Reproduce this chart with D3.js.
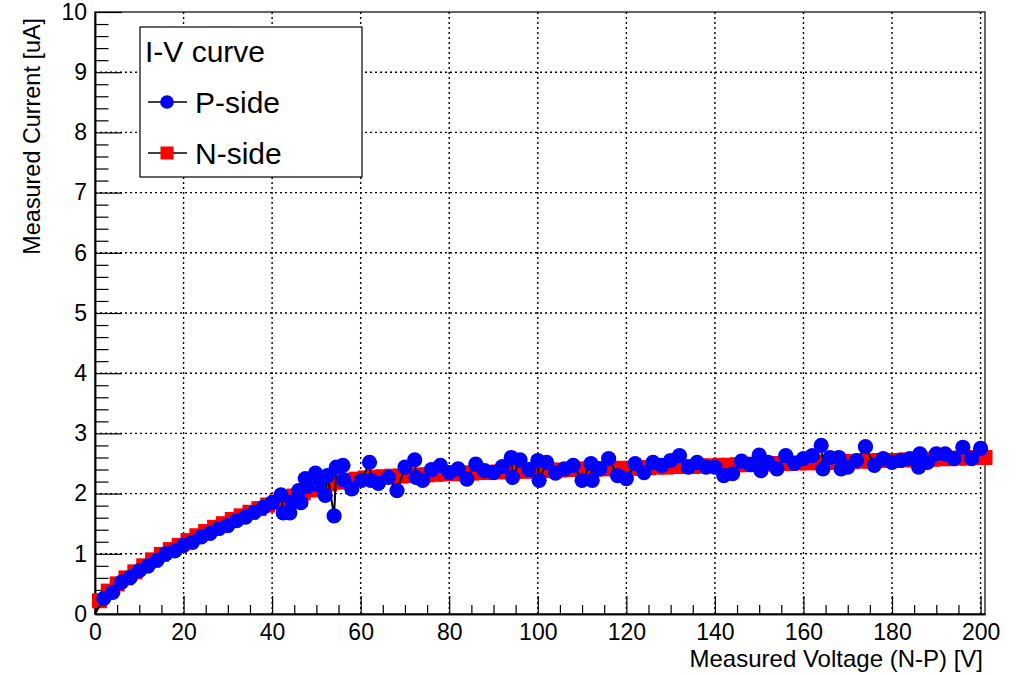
<!DOCTYPE html>
<html>
<head>
<meta charset="utf-8">
<script src="https://cdn.jsdelivr.net/npm/d3@7"></script>
<style>
  html, body { margin: 0; padding: 0; background: #fff; }
  text { font-family: "Liberation Sans", Arial, Helvetica, sans-serif; }
</style>
</head>
<body>
<svg id="chart" width="1031" height="675"></svg>
<script>
// ---------------- data ----------------
const legendTitle = "I-V curve";
const seriesNames = ["P-side", "N-side"];
const xTitle = "Measured Voltage (N-P) [V]";
const yTitle = "Measured Current [uA]";
const xMajorTicks = [0, 20, 40, 60, 80, 100, 120, 140, 160, 180, 200];
const yMajorTicks = [0, 1, 2, 3, 4, 5, 6, 7, 8, 9, 10];

// P-side: measured voltage [V]
const pVoltage = [0, 2, 4, 6, 8, 10, 12, 14, 16, 18, 20, 22, 24, 26, 28, 30, 32, 34, 36, 38, 40,
  42, 42.5, 44, 44.5, 46, 46.5, 47.5, 48, 49.8, 50.5, 52, 52.5, 54, 54.5, 56, 56.2, 58, 60.2, 62, 62.3,
  64, 66.3, 68.2, 70, 72.2, 72.5, 74, 76, 78, 80, 82, 84, 86, 88, 90, 92, 94, 94.3, 96, 98, 100, 100.3,
  102, 104, 106, 108, 110, 112, 112.3, 114, 116, 118, 120, 122, 124, 126, 128, 130, 132, 134, 136, 138,
  140, 142, 144, 146, 148, 150, 150.4, 152, 154, 156, 158, 160, 162, 164, 164.4, 166, 168, 168.5, 170,
  172, 174, 176, 178, 180, 182, 184, 186, 186.3, 188, 190, 192, 194, 196, 198, 200];
// P-side: measured current [uA]
const pCurrent = [0, 0.26, 0.36, 0.53, 0.61, 0.72, 0.80, 0.89, 1.00, 1.05, 1.14, 1.19, 1.28, 1.34, 1.42, 1.47, 1.55, 1.61, 1.69, 1.77, 1.85,
  1.98, 1.68, 1.68, 1.86, 2.05, 1.85, 2.25, 2.12, 2.34, 2.14, 1.97, 2.30, 1.63, 2.44, 2.47, 2.23, 2.08, 2.22, 2.52, 2.22,
  2.17, 2.27, 2.05, 2.44, 2.56, 2.27, 2.22, 2.40, 2.47, 2.35, 2.41, 2.24, 2.49, 2.38, 2.35, 2.45, 2.60, 2.27, 2.56, 2.40, 2.55, 2.22,
  2.52, 2.34, 2.41, 2.47, 2.22, 2.50, 2.22, 2.41, 2.58, 2.30, 2.25, 2.50, 2.35, 2.52, 2.47, 2.55, 2.63, 2.44, 2.52, 2.44,
  2.44, 2.30, 2.33, 2.54, 2.48, 2.64, 2.38, 2.52, 2.41, 2.63, 2.50, 2.58, 2.63, 2.80, 2.41, 2.60, 2.60, 2.41, 2.44,
  2.55, 2.78, 2.47, 2.58, 2.52, 2.55, 2.58, 2.44, 2.66, 2.52, 2.66, 2.66, 2.58, 2.77, 2.58, 2.75];

// N-side: measured voltage [V]
const nVoltage = [0, 1, 3, 5, 7, 9, 11, 13, 15, 17, 19, 21, 23, 25, 27, 29, 31, 33, 35, 37, 39, 41, 43, 45, 47, 49,
  51, 53, 55, 57, 59, 61, 63, 65, 67, 69, 71, 73, 75, 77, 79, 81, 83, 85, 87, 89, 91, 93, 95, 97, 99,
  101, 103, 105, 107, 109, 111, 113, 115, 117, 119, 121, 123, 125, 127, 129, 131, 133, 135, 137, 139,
  141, 143, 145, 147, 149, 151, 153, 155, 157, 159, 161, 163, 165, 167, 169, 171, 173, 175, 177, 179,
  181, 183, 185, 187, 189, 191, 193, 195, 197, 199, 201];
// N-side: measured current [uA]
const nCurrent = [0, 0.22, 0.38, 0.50, 0.60, 0.70, 0.80, 0.90, 0.99, 1.07, 1.14, 1.22, 1.30, 1.37, 1.44, 1.50, 1.57, 1.63, 1.69, 1.75, 1.81, 1.86, 1.91, 1.96, 2.01, 2.06,
  2.11, 2.16, 2.19, 2.22, 2.24, 2.26, 2.27, 2.28, 2.29, 2.29, 2.30, 2.31, 2.31, 2.32, 2.33, 2.33, 2.34, 2.34, 2.35, 2.35, 2.36, 2.37, 2.37, 2.37, 2.38,
  2.38, 2.39, 2.39, 2.40, 2.40, 2.41, 2.41, 2.41, 2.42, 2.42, 2.42, 2.43, 2.43, 2.44, 2.44, 2.45, 2.45, 2.45, 2.46, 2.46,
  2.47, 2.47, 2.48, 2.48, 2.49, 2.49, 2.50, 2.50, 2.50, 2.51, 2.51, 2.52, 2.52, 2.52, 2.53, 2.53, 2.54, 2.54, 2.55, 2.55,
  2.55, 2.56, 2.56, 2.57, 2.57, 2.58, 2.58, 2.59, 2.59, 2.60, 2.60];

// ---------------- layout ----------------
const W = 1031, H = 675;
const frame = { left: 95, right: 985, top: 12, bottom: 614 };
const xMin = 0, xMax = 201, yMin = 0, yMax = 10;

const svg = d3.select("#chart");
svg.append("rect").attr("width", W).attr("height", H).attr("fill", "#fff");

const x = d3.scaleLinear().domain([xMin, xMax]).range([frame.left, frame.right]);
const y = d3.scaleLinear().domain([yMin, yMax]).range([frame.bottom, frame.top]);

const xMinor = d3.range(0, 201, 5).filter(v => !xMajorTicks.includes(v));
const yMinor = d3.range(0, 10.001, 0.2).map(v => +v.toFixed(1)).filter(v => !yMajorTicks.includes(v));

// grid (dotted)
const grid = svg.append("g").attr("stroke", "#000").attr("stroke-width", 1.4).attr("stroke-dasharray", "2,3");
grid.selectAll("line.gx").data(xMajorTicks.filter(v => v > xMin && v < xMax)).join("line")
  .attr("x1", d => x(d)).attr("x2", d => x(d)).attr("y1", frame.top).attr("y2", frame.bottom);
grid.selectAll("line.gy").data(yMajorTicks.filter(v => v > yMin && v < yMax)).join("line")
  .attr("y1", d => y(d)).attr("y2", d => y(d)).attr("x1", frame.left).attr("x2", frame.right);

// frame
svg.append("rect").attr("x", frame.left).attr("y", frame.top)
  .attr("width", frame.right - frame.left).attr("height", frame.bottom - frame.top)
  .attr("fill", "none").attr("stroke", "#000").attr("stroke-width", 1.2);

// axes
const fontSize = 23;
const xAxis = svg.append("g").attr("transform", `translate(0,${frame.bottom})`)
  .call(d3.axisBottom(x).tickValues(xMajorTicks).tickSize(-18).tickSizeOuter(0).tickPadding(10).tickFormat(d3.format("d")));
const xAxisMinor = svg.append("g").attr("transform", `translate(0,${frame.bottom})`)
  .call(d3.axisBottom(x).tickValues(xMinor).tickSize(-9).tickSizeOuter(0).tickFormat(""));
const yAxis = svg.append("g").attr("transform", `translate(${frame.left},0)`)
  .call(d3.axisLeft(y).tickValues(yMajorTicks).tickSize(-27).tickSizeOuter(0).tickPadding(8).tickFormat(d3.format("d")));
const yAxisMinor = svg.append("g").attr("transform", `translate(${frame.left},0)`)
  .call(d3.axisLeft(y).tickValues(yMinor).tickSize(-13.5).tickSizeOuter(0).tickFormat(""));

[xAxis, xAxisMinor, yAxis, yAxisMinor].forEach(g => {
  g.select(".domain").attr("stroke", "#000").attr("stroke-width", 1.5);
  g.selectAll(".tick line").attr("stroke", "#000").attr("stroke-width", 1.2);
  g.selectAll(".tick text").attr("font-size", fontSize).attr("fill", "#000")
    .attr("font-family", '"Liberation Sans", Arial, sans-serif');
});

// axis titles
svg.append("text").attr("x", 983).attr("y", 667).attr("text-anchor", "end")
  .attr("font-size", 24).attr("fill", "#000").text(xTitle);
svg.append("text").attr("transform", "translate(40,18) rotate(-90)").attr("text-anchor", "end")
  .attr("font-size", 23.4).attr("fill", "#000").text(yTitle);

// series
const pData = pVoltage.map((v, i) => ({ v, c: pCurrent[i] }));
const nData = nVoltage.map((v, i) => ({ v, c: nCurrent[i] }));
const line = d3.line().x(d => x(d.v)).y(d => y(d.c));

const markerR = 7.6, sq = 15;
const plot = svg.append("g");
// N-side first (drawn underneath)
plot.append("path").datum(nData).attr("d", line).attr("fill", "none").attr("stroke", "#000").attr("stroke-width", 2);
plot.append("g").selectAll("rect").data(nData.filter(d => d.v > xMin && d.c > yMin)).join("rect")
  .attr("x", d => x(d.v) - sq / 2).attr("y", d => y(d.c) - sq / 2)
  .attr("width", sq).attr("height", sq).attr("fill", "#ff0000");
// P-side on top
plot.append("path").datum(pData).attr("d", line).attr("fill", "none").attr("stroke", "#000").attr("stroke-width", 2);
plot.append("g").selectAll("circle").data(pData.filter(d => d.v > xMin && d.c > yMin)).join("circle")
  .attr("cx", d => x(d.v)).attr("cy", d => y(d.c)).attr("r", markerR).attr("fill", "#0000ff");

// legend
const lg = svg.append("g");
lg.append("rect").attr("x", 140).attr("y", 27).attr("width", 222).attr("height", 150)
  .attr("fill", "#fff").attr("stroke", "#000").attr("stroke-width", 1.2);
lg.append("text").attr("x", 145).attr("y", 62).attr("font-size", 30).attr("fill", "#000").text(legendTitle);
const entryY = [102, 153];
seriesNames.forEach((name, i) => {
  const g = lg.append("g");
  g.append("line").attr("x1", 148).attr("x2", 187).attr("y1", entryY[i]).attr("y2", entryY[i])
    .attr("stroke", "#000").attr("stroke-width", 1.5);
  if (i === 0) {
    g.append("circle").attr("cx", 167).attr("cy", entryY[i]).attr("r", 6.8).attr("fill", "#0000ff");
  } else {
    g.append("rect").attr("x", 167 - 6.5).attr("y", entryY[i] - 6.5).attr("width", 13).attr("height", 13).attr("fill", "#ff0000");
  }
  g.append("text").attr("x", 195).attr("y", entryY[i] + 10.5).attr("font-size", 30).attr("fill", "#000").text(name);
});
</script>
</body>
</html>
